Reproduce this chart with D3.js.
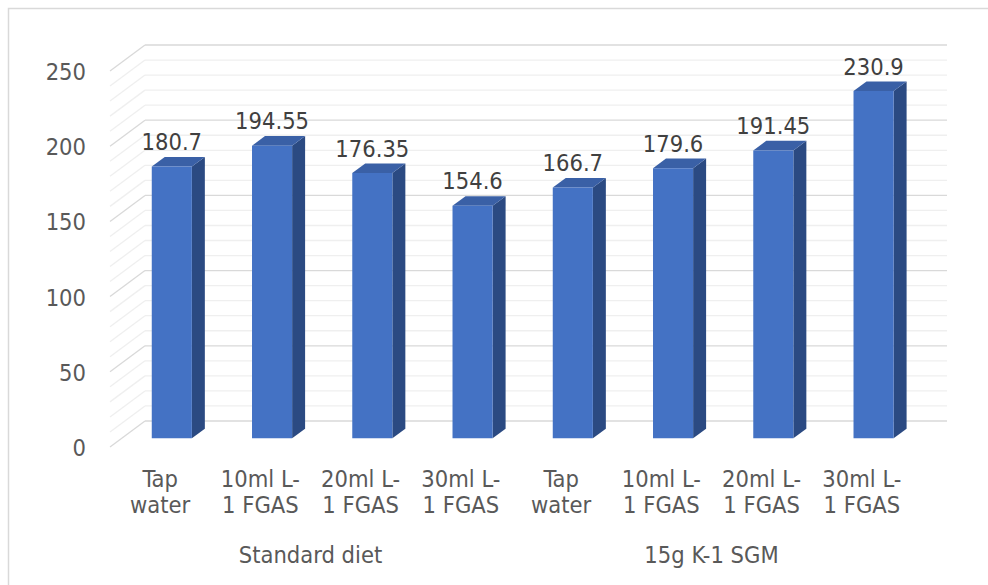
<!DOCTYPE html>
<html>
<head>
<meta charset="utf-8">
<script src="https://cdn.jsdelivr.net/npm/d3@7"></script>
<style>
  html, body { margin: 0; padding: 0; background: #ffffff; }
  svg { display: block; }
  text { font-family: "DejaVu Sans Condensed", "DejaVu Sans", sans-serif; font-stretch: condensed; }
</style>
</head>
<body>
<svg id="chart" width="988" height="585"></svg>
<script>
// Category labels (two lines each), group labels and values
const categoryLines = [
  ["Tap", "water"], ["10ml L-", "1 FGAS"], ["20ml L-", "1 FGAS"], ["30ml L-", "1 FGAS"],
  ["Tap", "water"], ["10ml L-", "1 FGAS"], ["20ml L-", "1 FGAS"], ["30ml L-", "1 FGAS"]
];
const groups = ["Standard diet", "15g K-1 SGM"];
const groupSize = 4;
const values = [180.7, 194.55, 176.35, 154.6, 166.7, 179.6, 191.45, 230.9];
const valueLabels = ["180.7", "194.55", "176.35", "154.6", "166.7", "179.6", "191.45", "230.9"];
const yTicks = [0, 50, 100, 150, 200, 250];
const yGrid = d3.range(0, 251, 10);

const svg = d3.select("#chart");

// Frame
svg.append("rect")
  .attr("x", 8.5).attr("y", 8.5)
  .attr("width", 1000).attr("height", 600)
  .attr("fill", "#ffffff")
  .attr("stroke", "#d9d9d9").attr("stroke-width", 1.5);

// Oblique projection: depth 0 = front plane, depth 1 = back wall
const DX = 35, DY = -26;
const front = { left: 110, right: 912 };

const y = d3.scaleLinear().domain([0, 250]).range([447, 71]);
const x = d3.scaleBand().domain(d3.range(values.length))
  .range([front.left, front.right]).paddingInner(0.6).paddingOuter(0.3);
const xCell = d3.scaleBand().domain(d3.range(values.length))
  .range([front.left, front.right]).padding(0);

const px = (fx, d) => fx + DX * d;
const py = (fy, d) => fy + DY * d;

// Gridlines: back wall + left wall diagonals
const grid = svg.append("g");
yGrid.forEach(v => {
  const major = v % 50 === 0;
  const col = major ? "#d9d9d9" : "#efefef";
  grid.append("line")
    .attr("x1", px(front.left, 1)).attr("x2", px(front.right, 1))
    .attr("y1", py(y(v), 1)).attr("y2", py(y(v), 1))
    .attr("stroke", col).attr("stroke-width", 1.3);
  grid.append("line")
    .attr("x1", px(front.left, 0)).attr("y1", py(y(v), 0))
    .attr("x2", px(front.left, 1)).attr("y2", py(y(v), 1))
    .attr("stroke", col).attr("stroke-width", 1.3);
});

// Bars (front face, top face, right side face)
const d1 = 0.334, d2 = 0.705;
const bars = svg.append("g");
values.forEach((v, i) => {
  const xl = x(i), xr = x(i) + x.bandwidth();
  const yt = y(v), yb = y(0);
  const pt = (fx, fy, d) => [px(fx, d), py(fy, d)];
  const poly = pts => pts.map(p => p.join(",")).join(" ");
  // side
  bars.append("polygon")
    .attr("points", poly([pt(xr, yt, d1), pt(xr, yt, d2), pt(xr, yb, d2), pt(xr, yb, d1)]))
    .attr("fill", "#2b4a82");
  // top
  bars.append("polygon")
    .attr("points", poly([pt(xl, yt, d1), pt(xl, yt, d2), pt(xr, yt, d2), pt(xr, yt, d1)]))
    .attr("fill", "#3a60a6");
  // front
  bars.append("polygon")
    .attr("points", poly([pt(xl, yt, d1), pt(xr, yt, d1), pt(xr, yb, d1), pt(xl, yb, d1)]))
    .attr("fill", "#4472c4");
  // value label
  bars.append("text")
    .attr("x", px(xl + x.bandwidth() / 2, d1))
    .attr("y", py(yt, d1) - 16.5)
    .attr("text-anchor", "middle")
    .attr("font-size", 23.5)
    .attr("fill", "#404040")
    .text(valueLabels[i]);
});

// Value axis on the front plane
const yAxis = d3.axisLeft(y).tickValues(yTicks).tickSize(0).tickPadding(0);
const ya = svg.append("g").attr("transform", "translate(86,0)").call(yAxis);
ya.select(".domain").remove();
ya.selectAll("text")
  .attr("font-size", 23.5).attr("fill", "#595959")
  .attr("font-family", null).attr("dy", "0.36em");

// Category labels
const cats = svg.append("g");
categoryLines.forEach((lines, i) => {
  const cx = xCell(i) + xCell.bandwidth() / 2;
  lines.forEach((t, k) => {
    cats.append("text")
      .attr("x", cx).attr("y", 486.7 + k * 26)
      .attr("text-anchor", "middle")
      .attr("font-size", 23.5).attr("fill", "#595959")
      .text(t);
  });
});

// Group labels
groups.forEach((g, j) => {
  const a = xCell(j * groupSize);
  const b = xCell(j * groupSize + groupSize - 1) + xCell.bandwidth();
  svg.append("text")
    .attr("x", (a + b) / 2).attr("y", 563.3)
    .attr("text-anchor", "middle")
    .attr("font-size", 23.5).attr("fill", "#595959")
    .text(g);
});
</script>
</body>
</html>
